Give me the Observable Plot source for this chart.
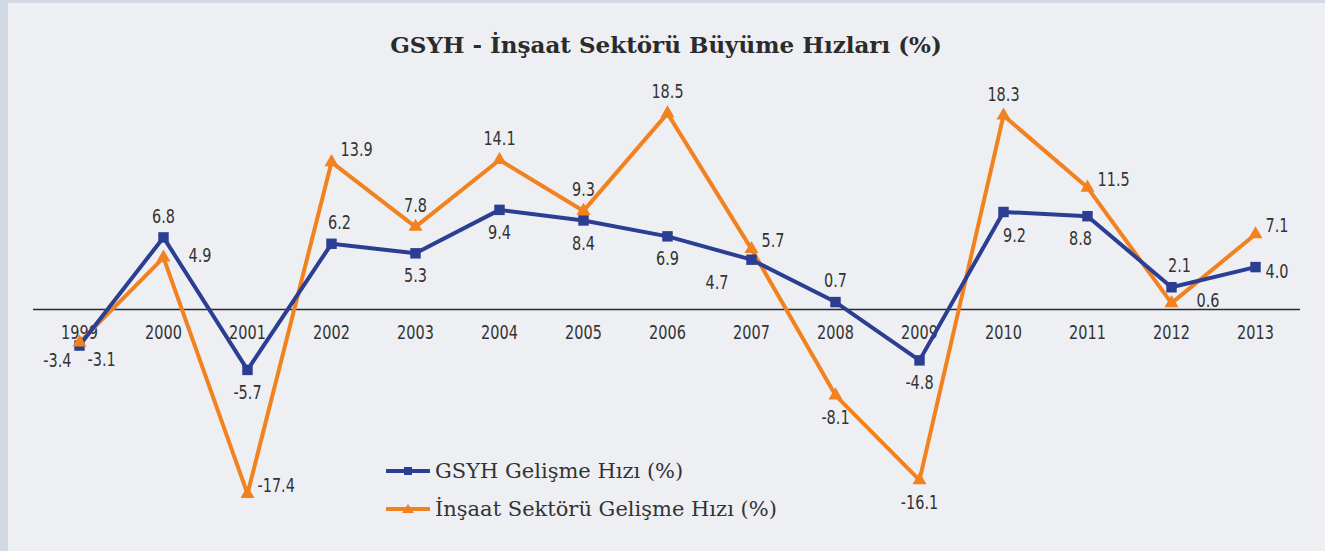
<!DOCTYPE html>
<html>
<head>
<meta charset="utf-8">
<script src="https://cdn.jsdelivr.net/npm/d3@7"></script>
<script src="https://cdn.jsdelivr.net/npm/@observablehq/plot@0.6"></script>
<style>
  html, body { margin: 0; padding: 0; width: 1325px; height: 551px; overflow: hidden; background: #d3d9e4; }
  #frame { position: absolute; left: 8px; top: 3px; right: 0; bottom: 0; background: #eeeff3; }
  #chart { position: absolute; left: 0; top: 0; }
  #title { position: absolute; left: 0; width: 1332px; top: 31px; text-align: center;
           font-family: "DejaVu Serif", serif; font-weight: bold; font-size: 23px; color: #2b2b2b; }
  #legend { position: absolute; left: 386px; top: 452px; font-family: "DejaVu Serif", serif; font-size: 21px; color: #333; }
  .lg { display: flex; align-items: center; height: 38px; }
  .lg svg { margin-right: 5px; }
</style>
</head>
<body>
<div id="frame"></div>
<div id="chart"></div>
<div id="title">GSYH - İnşaat Sektörü Büyüme Hızları (%)</div>
<div id="legend"></div>
<script>
const years = [1999, 2000, 2001, 2002, 2003, 2004, 2005, 2006, 2007, 2008, 2009, 2010, 2011, 2012, 2013];
const gsyh = [-3.4, 6.8, -5.7, 6.2, 5.3, 9.4, 8.4, 6.9, 4.7, 0.7, -4.8, 9.2, 8.8, 2.1, 4.0];
const insaat = [-3.1, 4.9, -17.4, 13.9, 7.8, 14.1, 9.3, 18.5, 5.7, -8.1, -16.1, 18.3, 11.5, 0.6, 7.1];
const seriesNames = ["GSYH Gelişme Hızı (%)", "İnşaat Sektörü Gelişme Hızı (%)"];
const gsyhLabelPos = ["bottomLeft", "top", "bottom", "topRight", "bottom", "bottom", "bottom", "bottom", "bottomLeftFar", "top", "bottom", "bottomRight", "bottomLeftNear", "topRight", "rightLow"];
const insaatLabelPos = ["bottomRightStart", "rightFar", "right", "rightUp", "top", "top", "top", "top", "right", "bottom", "bottom", "top", "right", "rightFar", "right"];

const BLUE = "#2b3e92", ORANGE = "#f1821f", TEXT = "#333333";
const LABEL_FONT = "'DejaVu Sans', sans-serif";
const offsets = {
  top: [0, -21, "middle"], bottom: [0, 23, "middle"],
  topRight: [8, -21, "middle"], bottomRight: [11, 24, "middle"],
  bottomLeft: [-8, 15, "end"], bottomLeftFar: [-23, 23, "end"], bottomLeftNear: [-7, 23, "middle"],
  bottomRightStart: [8, 18, "start"], right: [10, -8, "start"], rightUp: [9, -12, "start"],
  rightFar: [25, -2, "start"], rightLow: [10, 5, "start"]
};

function rows(vals, posArr, series) {
  return years.map((y, i) => ({ year: y, value: vals[i], pos: posArr[i], series }));
}
const gRows = rows(gsyh, gsyhLabelPos, seriesNames[0]);
const iRows = rows(insaat, insaatLabelPos, seriesNames[1]);

function labelMarks(data) {
  const groups = d3.group(data, d => d.pos);
  const marks = [];
  for (const [pos, ds] of groups) {
    const [dx, dy, anchor] = offsets[pos];
    marks.push(Plot.text(ds, {
      x: "year", y: "value", text: d => d.value.toFixed(1),
      dx, dy, textAnchor: anchor, lineAnchor: "middle",
      fontSize: 19, fontFamily: LABEL_FONT, fill: TEXT
    }));
  }
  return marks;
}

const chart = Plot.plot({
  width: 1325, height: 551,
  marginLeft: 33, marginRight: 25, marginTop: 97, marginBottom: 30,
  style: { background: "transparent", overflow: "visible" },
  x: { type: "point", domain: years, padding: 0.5, axis: null },
  y: { domain: [-20, 20], axis: null },
  marks: [
    Plot.ruleY([0], { stroke: "#2a2a2a", strokeWidth: 1.5 }),
    Plot.text(years, {
      x: d => d, y: d => 0, text: d => String(d), dy: 23, lineAnchor: "middle",
      fontSize: 19, fontFamily: LABEL_FONT, fill: TEXT
    }),
    Plot.line(iRows, { x: "year", y: "value", stroke: ORANGE, strokeWidth: 4 }),
    Plot.line(gRows, { x: "year", y: "value", stroke: BLUE, strokeWidth: 4 }),
    Plot.dot(gRows, { x: "year", y: "value", symbol: "square", r: 5.9, fill: BLUE, stroke: "none" }),
    Plot.dot(iRows, { x: "year", y: "value", symbol: "triangle", r: 5.2, fill: ORANGE, stroke: "none" }),
    ...labelMarks(gRows),
    ...labelMarks(iRows)
  ]
});
document.getElementById("chart").appendChild(chart);

// condense the label glyphs horizontally to mimic the original narrow face
chart.querySelectorAll("text").forEach(t => {
  const w = t.getComputedTextLength();
  if (w > 0) {
    t.setAttribute("textLength", (w * 0.76).toFixed(1));
    t.setAttribute("lengthAdjust", "spacingAndGlyphs");
  }
});

const legend = document.getElementById("legend");
[[seriesNames[0], BLUE, "square"], [seriesNames[1], ORANGE, "triangle"]].forEach(([name, color, sym]) => {
  const row = document.createElement("div");
  row.className = "lg";
  const path = sym === "square" ? "M18,3H26V11H18Z" : "M22,2L28,11H16Z";
  row.innerHTML = `<svg width="44" height="14"><line x1="0" x2="44" y1="7" y2="7" stroke="${color}" stroke-width="4"/><path d="${path}" fill="${color}"/></svg><span>${name}</span>`;
  legend.appendChild(row);
});
</script>
</body>
</html>
